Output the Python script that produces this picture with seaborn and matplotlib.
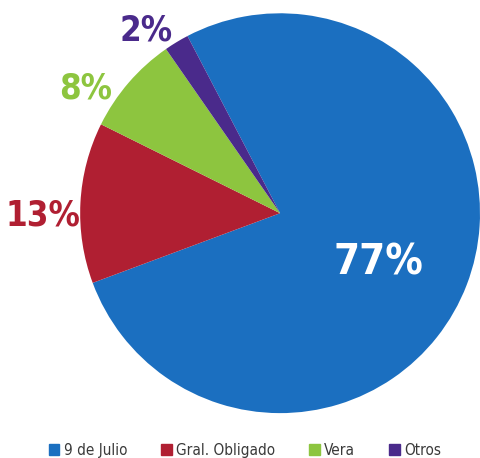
import os
import numpy as np
import matplotlib
matplotlib.use("Agg")
import matplotlib.pyplot as plt
import seaborn as sns
from matplotlib import font_manager
from matplotlib.font_manager import FontProperties

sns.set_theme(style="white")

categories = ["9 de Julio", "Gral. Obligado", "Vera", "Otros"]
shares = [77, 13, 8, 2]
colors = ["#1b6fc0", "#b01f32", "#8dc53f", "#4a2a8b"]


def narrow_font(bold):
    """Pick a condensed/narrow face if one is installed."""
    hits = []
    for f in font_manager.fontManager.ttflist:
        base = os.path.basename(f.fname).lower()
        narrow = ("condensed" in base or "narrow" in base
                  or str(f.stretch).lower() in ("condensed", "semi-condensed", "extra-condensed"))
        if not narrow or "extra" in base or "italic" in base or f.style != "normal":
            continue
        w = f.weight if isinstance(f.weight, int) else 400
        if bold and w < 600:
            continue
        if not bold and w != 400:
            continue
        hits.append(f.fname)
    hits.sort(key=lambda p: ("semi" in p.lower(), p))
    return FontProperties(fname=hits[0]) if hits else None


fp_bold = narrow_font(True) or FontProperties(family="Lato", weight="bold")
fp_reg = narrow_font(False) or FontProperties(family="Lato")

fig = plt.figure(figsize=(4.8, 4.58), dpi=100)
ax = fig.add_axes([0.167, 0.098, 0.833, 0.873])

wedges, _ = ax.pie(shares, colors=colors, startangle=117.6, counterclock=False,
                   radius=1.0, wedgeprops=dict(linewidth=0))
ax.set_xlim(-1, 1)
ax.set_ylim(-1, 1)
ax.set_aspect("equal")
ax.axis("off")

# label placement: (radius, angle nudge in degrees, colour, size)
placement = [(0.55, -5.6, "white", 30), (1.185, 3.5, colors[1], 25),
             (1.158, 8.1, colors[2], 25), (1.134, 5.0, colors[3], 25)]
for w, v, (r, da, c, s) in zip(wedges, shares, placement):
    mid = np.deg2rad((w.theta1 + w.theta2) / 2 + da)
    fp = fp_bold.copy()
    fp.set_size(s)
    ax.text(r * np.cos(mid), r * np.sin(mid), f"{v}%", ha="center", va="center",
            color=c, fontproperties=fp, clip_on=False)

fp_leg = fp_reg.copy()
fp_leg.set_size(11)
handles = [plt.Rectangle((0, 0), 1, 1, color=c) for c in colors]
fig.legend(handles, categories, loc="center", bbox_to_anchor=(0.51, 0.016),
           ncol=4, frameon=False, prop=fp_leg, handlelength=0.7, handleheight=0.7,
           handletextpad=0.3, columnspacing=2.2, labelcolor="#3a3a3a",
           borderpad=0)

fig.savefig("out.png", dpi=100)
